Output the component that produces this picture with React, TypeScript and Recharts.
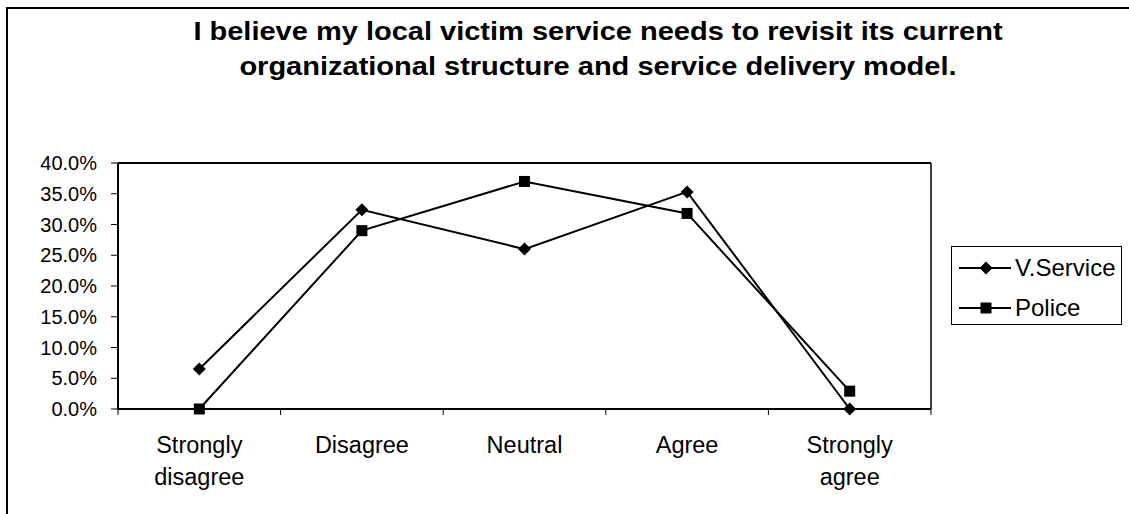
import React from 'react';
import { LineChart, Line, XAxis, YAxis, CartesianGrid, Legend } from 'recharts';

const categories = ['Strongly\ndisagree', 'Disagree', 'Neutral', 'Agree', 'Strongly\nagree'];
const vService = [0.065, 0.324, 0.26, 0.353, 0.0];
const police = [0.0, 0.29, 0.37, 0.318, 0.029];
const yTicks = [0, 0.05, 0.1, 0.15, 0.2, 0.25, 0.3, 0.35, 0.4];
const seriesNames = ['V.Service', 'Police'];
const titleLines = [
  'I believe my local victim service needs to revisit its current',
  'organizational structure and service delivery model.',
];

const data = categories.map((c, i) => ({
  x: i + 0.5,
  cat: c,
  vs: vService[i],
  po: police[i],
}));
// category centres (labels) and category boundaries (tick marks)
const xTicks = [0, 0.5, 1, 1.5, 2, 2.5, 3, 3.5, 4, 4.5, 5];

const FONT = 'Arial, "Liberation Sans", Helvetica, sans-serif';

const Diamond = (props: any) => {
  const { cx, cy } = props;
  if (cx == null || cy == null) return null;
  const r = 6.5;
  return (
    <polygon
      points={`${cx},${cy - r} ${cx + r},${cy} ${cx},${cy + r} ${cx - r},${cy}`}
      fill="#000"
      stroke="none"
    />
  );
};

const Square = (props: any) => {
  const { cx, cy } = props;
  if (cx == null || cy == null) return null;
  const s = 11;
  return <rect x={cx - s / 2} y={cy - s / 2} width={s} height={s} fill="#000" />;
};

const CatTick = (props: any) => {
  const { x, y, payload } = props;
  const v = payload.value;
  if (Math.abs(v - Math.round(v)) < 1e-6) {
    return <line x1={x} y1={y} x2={x} y2={y + 6} stroke="#000" strokeWidth={1} />;
  }
  const idx = Math.round(v - 0.5);
  const lines = (categories[idx] || '').split('\n');
  return (
    <text x={x} y={y + 44} textAnchor="middle" fontSize={23.5} fontFamily={FONT} fill="#000">
      {lines.map((l, i) => (
        <tspan key={i} x={x} dy={i === 0 ? 0 : 32}>
          {l}
        </tspan>
      ))}
    </text>
  );
};

const LegendContent = () => (
  <div
    style={{
      width: 171,
      height: 79,
      border: '1px solid #000',
      boxSizing: 'border-box',
      background: '#fff',
      position: 'relative',
      fontFamily: FONT,
      fontSize: 24,
      color: '#000',
    }}
  >
    {seriesNames.map((n, i) => (
      <div key={n} style={{ position: 'absolute', left: 0, top: i === 0 ? 5 : 45, height: 32, width: 170 }}>
        <svg width={60} height={32} style={{ position: 'absolute', left: 0, top: 0 }}>
          <line x1={7} y1={16} x2={59} y2={16} stroke="#000" strokeWidth={2} />
          {i === 0 ? <Diamond cx={34} cy={16} /> : <Square cx={34} cy={16} />}
        </svg>
        <span style={{ position: 'absolute', left: 63, top: 1, lineHeight: '30px', whiteSpace: 'nowrap' }}>{n}</span>
      </div>
    ))}
  </div>
);

export default function App() {
  return (
    <div
      style={{
        position: 'absolute',
        left: 0,
        top: 0,
        width: 1129,
        height: 514,
        overflow: 'hidden',
        background: '#fff',
      }}
    >
      <div
        style={{
          position: 'absolute',
          left: 6,
          top: 7,
          width: 1200,
          height: 600,
          border: '2px solid #000',
        }}
      />
      <div
        style={{
          position: 'absolute',
          left: 0,
          top: 14,
          width: 1196,
          textAlign: 'center',
          fontFamily: FONT,
          fontWeight: 'bold',
          fontSize: 25,
          lineHeight: '35px',
          color: '#000',
          transform: 'scaleX(1.16)',
          transformOrigin: '598px 0px',
        }}
      >
        {titleLines.map((t) => (
          <div key={t}>{t}</div>
        ))}
      </div>
      <div style={{ position: 'absolute', left: 0, top: 0 }}>
        <LineChart
          width={1129}
          height={514}
          data={data}
          margin={{ top: 162, right: 197, bottom: 45, left: 0 }}
        >
          <CartesianGrid vertical={false} horizontal stroke="#222" strokeWidth={1} />
          <XAxis
            xAxisId="labels"
            dataKey="x"
            type="number"
            domain={[0, 5]}
            ticks={xTicks}
            axisLine={{ stroke: '#000', strokeWidth: 2 }}
            tickLine={false}
            tickSize={0}
            tickMargin={0}
            height={60}
            tick={<CatTick />}
            interval={0}
          />
          <XAxis
            xAxisId="top"
            orientation="top"
            dataKey="x"
            type="number"
            domain={[0, 5]}
            ticks={[0]}
            tickFormatter={() => ''}
            tickLine={false}
            height={1}
            axisLine={{ stroke: '#000', strokeWidth: 2 }}
          />
          <YAxis
            yAxisId="left"
            domain={[0, 0.4]}
            ticks={yTicks}
            width={118}
            tickSize={7}
            tickMargin={14}
            tickFormatter={(v: number) => (v * 100).toFixed(1) + '%'}
            tick={{ fontSize: 20, fontFamily: FONT, fill: '#000' }}
            axisLine={{ stroke: '#000', strokeWidth: 2 }}
            tickLine={{ stroke: '#000', strokeWidth: 1 }}
            interval={0}
          />
          <YAxis
            yAxisId="right"
            orientation="right"
            domain={[0, 0.4]}
            ticks={[0]}
            tickFormatter={() => ''}
            tickLine={false}
            width={1}
            axisLine={{ stroke: '#000', strokeWidth: 1.5 }}
          />
          <Legend
            layout="horizontal"
            align="center"
            verticalAlign="middle"
            content={<LegendContent />}
            wrapperStyle={{ position: 'absolute', left: 951, top: 246, width: 171, height: 79 }}
          />
          <Line
            xAxisId="labels"
            yAxisId="left"
            dataKey="vs"
            name={seriesNames[0]}
            stroke="#000"
            strokeWidth={2}
            dot={<Diamond />}
            activeDot={false}
            isAnimationActive={false}
          />
          <Line
            xAxisId="labels"
            yAxisId="left"
            dataKey="po"
            name={seriesNames[1]}
            stroke="#000"
            strokeWidth={2}
            dot={<Square />}
            activeDot={false}
            isAnimationActive={false}
          />
        </LineChart>
      </div>
    </div>
  );
}
